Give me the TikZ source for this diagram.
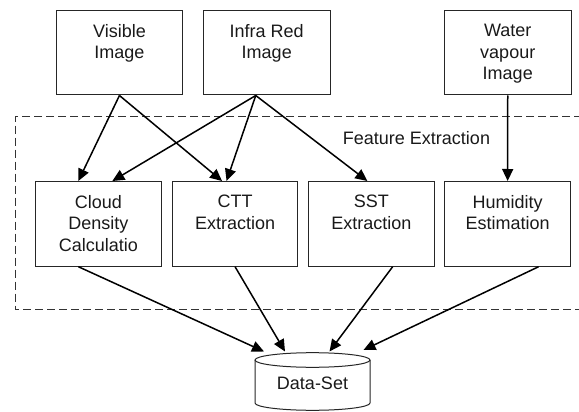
\documentclass[tikz,border=0pt]{standalone}
\usepackage{fontspec}
\setmainfont{Liberation Sans}
\usetikzlibrary{arrows.meta,calc}

\tikzset{
  txt/.style={font=\fontsize{18}{21.7}\selectfont, text=black!90, inner sep=0pt},
  box/.style={draw=black!85, line width=1pt, anchor=north west, inner sep=0pt},
  topbox/.style={box, minimum width=126.5pt, minimum height=84.5pt},
  featbox/.style={box, minimum width=125.7pt, minimum height=84.7pt},
  boxtext/.style={txt, align=center, anchor=north,
    execute at begin node=\rule{0pt}{14pt}},
  flow/.style={line width=1.5pt, black,
    -{Triangle[length=12pt,width=11pt]}},
  group/.style={draw=black!80, line width=1pt, dash pattern=on 8pt off 4pt},
}

\begin{document}
\begin{tikzpicture}[x=1pt, y=-1pt]
  \useasboundingbox (0,0) rectangle (579,412);

  % feature extraction group (open on the right)
  \draw[group] (582,116.7) -- (15,116.7) -- (15,309.3) -- (582,309.3);
  \node[txt, anchor=base] (fe) at (416.5,144) {Feature Extraction};

  % input images
  \node[topbox] (vis) at (55.7,10) {};
  \node[topbox] (ir)  at (203,10) {};
  \node[topbox] (wv)  at (444,10) {};
  \node[boxtext] (visT) at ([yshift=-14pt]vis.north) {Visible\\Image};
  \node[boxtext] (irT)  at ([yshift=-14pt]ir.north)  {Infra Red\\Image};
  \node[boxtext] (wvT)  at ([yshift=-14pt]wv.north)  {Water\\vapour\\Image};

  % extraction steps
  \node[featbox] (cd)  at (35,181) {};
  \node[featbox] (ctt) at (171.7,181) {};
  \node[featbox] (sst) at (308,181) {};
  \node[featbox] (hum) at (444.3,181) {};
  \node[boxtext] (cdT)  at ([yshift=-14pt]cd.north)  {Cloud\\Density\\Calculatio};
  \node[boxtext] (cttT) at ([yshift=-14pt]ctt.north) {CTT\\Extraction};
  \node[boxtext] (sstT) at ([yshift=-14pt]sst.north) {SST\\Extraction};
  \node[boxtext] (humT) at ([yshift=-14pt]hum.north) {Humidity\\Estimation};

  % data set cylinder
  \node[inner sep=0pt, minimum width=115pt, minimum height=57.3pt] (ds) at (312.5,381.35) {};
  \draw[black!85, line width=1pt]
    (312.5,360) ellipse [x radius=57.5pt, y radius=7.3pt];
  \draw[black!85, line width=1pt]
    (255,360) -- (255,403)
    arc[start angle=180, end angle=360, x radius=57.5pt, y radius=7.3pt]
    -- (370,360);
  \node[txt, anchor=base] (dsT) at (312.5,389.5) {Data-Set};

  % images to extraction steps
  \draw[flow] (vis.south) -- ([xshift=-20pt]cd.north);
  \draw[flow] (vis.south) -- ([xshift=-13pt]ctt.north);
  \draw[flow] ([xshift=-11pt]ir.south) -- ([xshift=14pt]cd.north);
  \draw[flow] ([xshift=-11pt]ir.south) -- ([xshift=-8.5pt]ctt.north);
  \draw[flow] ([xshift=-11pt]ir.south) -- ([xshift=-4pt]sst.north);
  \draw[flow] (wv.south) -- (hum.north);

  % extraction steps to data set
  \draw[flow] ([xshift=-20pt]cd.south)  -- ([xshift=-48.5pt,yshift=1pt]ds.north);
  \draw[flow] (ctt.south)               -- ([xshift=-27.5pt,yshift=1pt]ds.north);
  \draw[flow] ([xshift=21.3pt]sst.south) -- ([xshift=17pt,yshift=1pt]ds.north);
  \draw[flow] ([xshift=31pt]hum.south)  -- ([xshift=51pt,yshift=2.5pt]ds.north);
\end{tikzpicture}
\end{document}
